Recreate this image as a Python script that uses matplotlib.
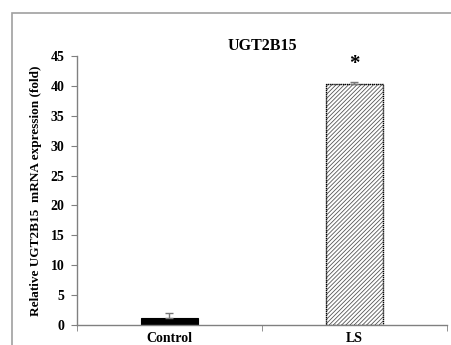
import matplotlib
matplotlib.use('Agg')
import matplotlib.pyplot as plt
from matplotlib.patches import Rectangle

groups = ['Control', 'LS']
values = [1.1, 40.3]
errors = [0.85, 0.3]

plt.rcParams['font.family'] = 'Liberation Serif'
plt.rcParams['font.weight'] = 'bold'
plt.rcParams['axes.labelweight'] = 'bold'
plt.rcParams['hatch.linewidth'] = 0.6

fig = plt.figure(figsize=(4.52, 3.45), dpi=100)
# gray outer chart frame
fig.patches.append(Rectangle((12 / 452, -0.2), 1.2, 1.2 - 13 / 345,
                             transform=fig.transFigure, fill=False,
                             edgecolor='#a0a0a0', linewidth=1.2))

ax = fig.add_axes([77 / 452, 20 / 345, 370 / 452, 269 / 345])
x = [0, 1]
w = 0.31
ax.bar(x[0], values[0], w, color='black', edgecolor='black', linewidth=0.8)
ax.bar(x[1], values[1], w, color='white', edgecolor='#555555', hatch='////////', linewidth=0)
ax.bar(x[1], values[1], w, fill=False, edgecolor='black', linewidth=1.0, linestyle=(0, (1, 0.5)))
ax.errorbar(x, values, yerr=[[0, 0], errors], fmt='none', ecolor='#777777',
            elinewidth=1, capsize=3)
ax.text(x[1], values[1] + 3.3, '*', ha='center', va='center', fontsize=15)

ax.set_xlim(-0.5, 1.5)
ax.set_ylim(0, 45)
ax.set_yticks(range(0, 46, 5))
ax.set_xticks(x)
ax.set_xticklabels(groups, fontsize=10)
ax.set_xticks([-0.5, 0.5, 1.5], minor=True)
ax.tick_params(axis='x', which='major', length=0, pad=5)
ax.tick_params(axis='x', which='minor', length=4, color='#808080', direction='out')
ax.tick_params(axis='y', labelsize=10, length=4, color='#808080', direction='out', pad=5)
for s in ['top', 'right']:
    ax.spines[s].set_visible(False)
for s in ['left', 'bottom']:
    ax.spines[s].set_color('#808080')
    ax.spines[s].set_linewidth(1)

ax.set_title('UGT2B15', fontsize=11.5, fontweight='bold', pad=4)
ax.set_ylabel('Relative UGT2B15  mRNA expression (fold)', fontsize=9.5, labelpad=6)

fig.savefig('out.png', dpi=100)
